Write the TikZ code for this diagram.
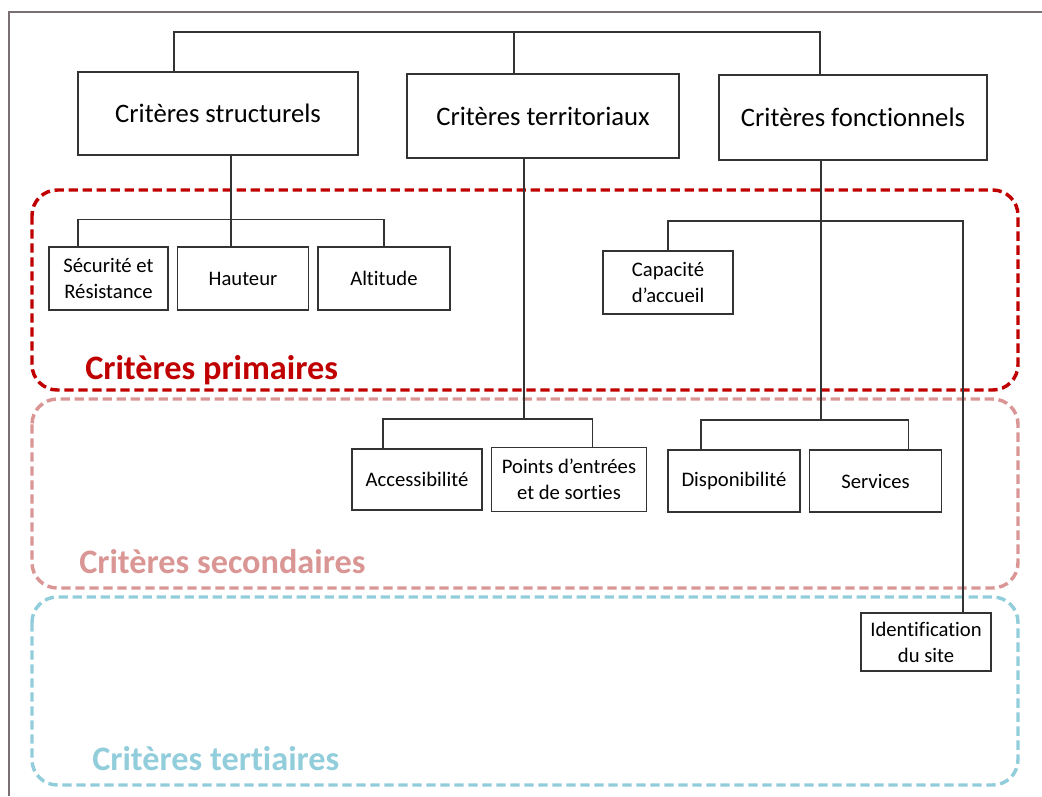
\documentclass[tikz,border=0pt]{standalone}
\usepackage{fontspec}
\setmainfont[RawFeature={-liga;-clig;-dlig;-calt}]{Carlito}
\usetikzlibrary{positioning}
\definecolor{zonered}{HTML}{C00000}
\definecolor{zonepink}{HTML}{D99694}
\definecolor{zoneblue}{HTML}{92CDDC}
\definecolor{framegray}{HTML}{7A6F74}
\definecolor{linegray}{HTML}{333333}
\tikzset{
  bigbox/.style={draw=linegray, line width=1.1pt, fill=white, align=center, inner sep=2pt, font=\fontsize{20}{24}\selectfont},
  box/.style={draw=linegray, line width=1.1pt, fill=white, align=center, inner sep=2pt, minimum height=47.25pt, font=\fontsize{15.5}{19.5}\selectfont},
  link/.style={draw=linegray, line width=1.1pt},
  zone/.style={line width=2.6pt, dash pattern=on 7pt off 3.5pt, rounded corners=19pt},
  zonelabel/.style={anchor=base west, inner sep=0pt, font=\fontsize{25.7}{30}\selectfont\bfseries}
}

\begin{document}
\begin{tikzpicture}[x=0.75pt, y=-0.75pt, node distance=6pt]
\useasboundingbox (0,0) rectangle (1042,796);
\draw[framegray, line width=1.5pt] (9,796) -- (9,12) -- (1042,12);

\draw[zone, zonered] (32,190) rectangle (1018,390);
\draw[zone, zonepink] (32,399) rectangle (1018,588);
\draw[zone, zoneblue] (32,597) rectangle (1018,785);
\node[zonelabel, text=zonered] (lp) at (85,379) {Critères primaires};
\node[zonelabel, text=zonepink] (ls) at (79,573) {Critères secondaires};
\node[zonelabel, text=zoneblue] (lt) at (92,770) {Critères tertiaires};

\node[bigbox, minimum width=210pt, minimum height=62.25pt] (cs) at (218,113.5) {Critères structurels};
\node[bigbox, minimum width=204pt, minimum height=63pt] (ct) at (543,116) {Critères territoriaux};
\node[bigbox, minimum width=201pt, minimum height=63.75pt] (cf) at (853,117.5) {Critères fonctionnels};

\node[box, minimum width=89.25pt] (sec) at (108.5,278.5) {Sécurité et\\Résistance};
\node[box, minimum width=98.25pt, right=of sec] (hau) {Hauteur};
\node[box, minimum width=99pt, right=of hau] (alt) {Altitude};
\node[box, minimum width=97.5pt] (cap) at (668,282.5) {Capacité\\d’accueil};
\node[box, minimum width=97.5pt, minimum height=45.75pt] (acc) at (417,479.5) {Accessibilité};
\node[box, minimum width=116.25pt, minimum height=48pt, right=of acc] (pts) {Points d’entrées\\et de sorties};
\node[box, minimum width=99pt, minimum height=46.5pt] (dis) at (734,481) {Disponibilité};
\node[box, minimum width=99pt, minimum height=46.5pt, right=of dis] (ser) {Services};
\node[box, minimum width=97.5pt, minimum height=43.5pt] (ide) at (926,642) {Identification\\du site};

\coordinate (top) at (514,32);
\coordinate (bs) at (231,219.5);
\coordinate (bt) at (524,419);
\coordinate (bf1) at (821,221);
\coordinate (bf2) at (821,420);

\draw[link] ([shift={(-44,0)}]cs.north) |- (top) -| ([shift={(-33,0)}]cf.north);
\draw[link] (top) -- (top |- ct.north);

\draw[link] (cs.south -| bs) -- (hau.north -| bs);
\draw[link] ([shift={(-30.5,0)}]sec.north) |- (bs) -| (alt.north);

\draw[link] (ct.south -| bt) -- (bt);
\draw[link] ([shift={(-34,0)}]acc.north) |- (bt) -| ([shift={(23.5,0)}]pts.north);

\draw[link] (cf.south -| bf1) -- (bf2);
\draw[link] ([shift={(-33,0)}]dis.north) |- (bf2) -| ([shift={(33,0)}]ser.north);
\draw[link] (cap.north) |- (bf1) -| ([shift={(37,0)}]ide.north);
\end{tikzpicture}
\end{document}
